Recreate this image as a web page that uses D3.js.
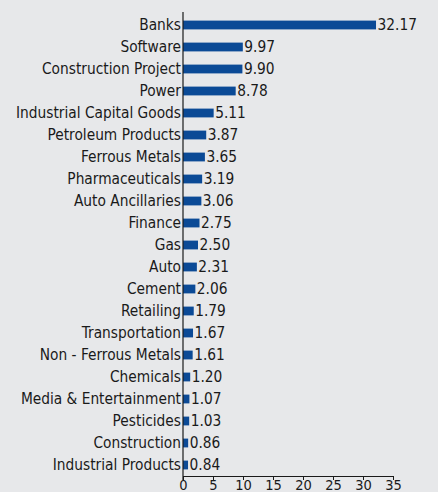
<!DOCTYPE html>
<html>
<head>
<meta charset="utf-8">
<script src="https://cdn.jsdelivr.net/npm/d3@7"></script>
<style>
  html, body { margin: 0; padding: 0; background: #e7e8ea; }
  svg { display: block; }
  text { font-family: "Liberation Sans Narrow", "DejaVu Sans Condensed", "Arial Narrow", sans-serif; fill: #1a1a1a; }
</style>
</head>
<body>
<div id="chart"></div>
<script>
// Sector allocation (% of net assets)
const sectors = [
  "Banks", "Software", "Construction Project", "Power", "Industrial Capital Goods",
  "Petroleum Products", "Ferrous Metals", "Pharmaceuticals", "Auto Ancillaries",
  "Finance", "Gas", "Auto", "Cement", "Retailing", "Transportation",
  "Non - Ferrous Metals", "Chemicals", "Media & Entertainment", "Pesticides",
  "Construction", "Industrial Products"
];
const weights = [
  32.17, 9.97, 9.90, 8.78, 5.11,
  3.87, 3.65, 3.19, 3.06,
  2.75, 2.50, 2.31, 2.06, 1.79, 1.67,
  1.61, 1.20, 1.07, 1.03,
  0.86, 0.84
];
const xTicks = [0, 5, 10, 15, 20, 25, 30, 35];

const W = 438, H = 492;
const m = { left: 183, right: 393, top: 14, bottom: 476 };
const fs = 15.3;

const svg = d3.select("#chart").append("svg")
  .attr("width", W).attr("height", H);

svg.append("rect").attr("width", W).attr("height", H).attr("fill", "#e7e8ea");

const x = d3.scaleLinear().domain([0, 35]).range([m.left, m.right]);
const y = d3.scaleBand().domain(sectors).range([m.top, m.bottom]).paddingInner(0.6).paddingOuter(0.3);

// bars
svg.append("g").selectAll("rect")
  .data(sectors)
  .join("rect")
  .attr("x", x(0))
  .attr("y", d => y(d))
  .attr("width", (d, i) => x(weights[i]) - x(0))
  .attr("height", y.bandwidth())
  .attr("fill", "#0b4a96");

// value labels
svg.append("g").selectAll("text")
  .data(sectors)
  .join("text")
  .attr("x", (d, i) => x(weights[i]) + 1.5)
  .attr("y", d => y(d) + y.bandwidth() / 2)
  .attr("dy", "0.35em")
  .attr("font-size", fs)
  .text((d, i) => weights[i].toFixed(2));

// category axis
const yAxis = svg.append("g")
  .attr("transform", `translate(${m.left},0)`)
  .call(d3.axisLeft(y).tickSize(0).tickPadding(2));
yAxis.select(".domain").attr("stroke", "#1a1a1a").attr("stroke-width", 1.2)
  .attr("d", `M0,${m.top - 2}V${m.bottom + 4}`);
yAxis.selectAll("text").attr("font-size", fs).attr("fill", "#1a1a1a")
  .attr("font-family", null);

// value axis
const xAxis = svg.append("g")
  .attr("transform", `translate(0,${m.bottom})`)
  .call(d3.axisBottom(x).tickValues(xTicks).tickSize(4).tickPadding(0).tickSizeOuter(0));
xAxis.select(".domain").attr("stroke", "#1a1a1a").attr("stroke-width", 1.2);
xAxis.selectAll(".tick line").attr("stroke", "#1a1a1a");
xAxis.selectAll("text").attr("font-size", 14.5).attr("fill", "#1a1a1a")
  .attr("font-family", null);
</script>
</body>
</html>
